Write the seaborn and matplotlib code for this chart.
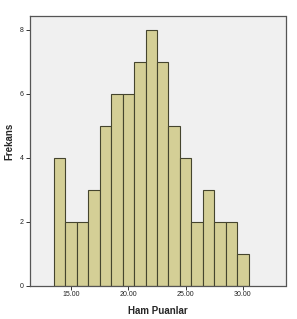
import numpy as np
import pandas as pd
import matplotlib
matplotlib.use("Agg")
import matplotlib.pyplot as plt
import seaborn as sns

scores = [14, 15, 16, 17, 18, 19, 20, 21, 22, 23, 24, 25, 26, 27, 28, 29, 30]
counts = [4, 2, 2, 3, 5, 6, 6, 7, 8, 7, 5, 4, 2, 3, 2, 2, 1]
x_ticks = [15, 20, 25, 30]
x_tick_labels = ["15.00", "20.00", "25.00", "30.00"]
y_ticks = [0, 2, 4, 6, 8]

df = pd.DataFrame({"Ham Puanlar": np.repeat(scores, counts)})

sns.set_style("white")
plt.rcParams['font.family'] = ['Arial', 'Liberation Sans', 'DejaVu Sans']

fig = plt.figure(figsize=(2.97, 3.19), dpi=100)
ax = fig.add_axes([29.5 / 297, 1 - 285.5 / 319, (285.5 - 29.5) / 297, (285.5 - 15.7) / 319])
ax.set_facecolor("#F0F0F0")

sns.histplot(data=df, x="Ham Puanlar", binwidth=1, binrange=(13.5, 30.5),
             color="#D4CF96", edgecolor="#45452E", linewidth=0.8, alpha=1, ax=ax)

ax.set_xlim(11.37, 33.72)
ax.set_ylim(0, 8.44)
ax.set_xticks(x_ticks)
ax.set_xticklabels(x_tick_labels)
ax.set_yticks(y_ticks)
ax.tick_params(axis="both", which="both", direction="out", length=3, width=0.7,
               labelsize=5, pad=1, color="#333333", labelcolor="#222222")
ax.tick_params(left=True, bottom=True)
for s in ax.spines.values():
    s.set_color("#555555")
    s.set_linewidth(0.9)

ax.set_xlabel("Ham Puanlar", fontsize=7, fontweight="bold")
ax.xaxis.set_label_coords(0.5, -0.075)
ax.set_ylabel("Frekans", fontsize=7, fontweight="bold")
ax.yaxis.set_label_coords(-0.058, 0.534)

fig.savefig("out.png", dpi=100, facecolor="white")
